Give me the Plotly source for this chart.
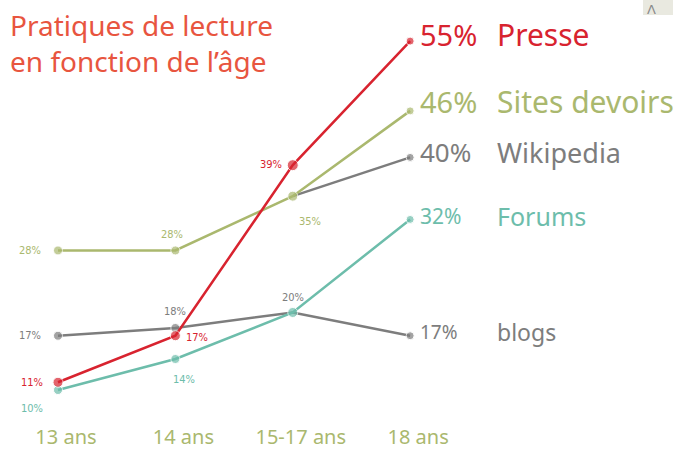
import plotly.graph_objects as go

ages = ["13 ans", "14 ans", "15-17 ans", "18 ans"]
presse = [11, 17, 39, 55]
sites_devoirs = [28, 28, 35, 46]
wikipedia = [None, None, 35, 40]
blogs = [17, 18, 20, 17]
forums = [10, 14, 20, 32]
names = ["Presse", "Sites devoirs", "Wikipedia", "Forums", "blogs"]
title_lines = ["Pratiques de lecture", "en fonction de l\u2019âge"]

RED = "#d8232f"
OLIVE = "#aab86e"
GRAY = "#7d7d7d"
TEAL = "#6dbdab"

fig = go.Figure()

def add_series(y, color, sizes, width=2.5):
    fig.add_trace(go.Scatter(
        x=ages, y=y, mode="lines+markers",
        line=dict(color=color, width=width),
        marker=dict(color=color, size=sizes),
        connectgaps=False, showlegend=False, hoverinfo="skip"))

add_series(wikipedia, GRAY, [0, 0, 0, 8])
add_series(blogs, GRAY, [9, 9, 0, 8])
add_series(sites_devoirs, OLIVE, [9, 9, 10, 8])
add_series(forums, TEAL, [9, 9, 10, 8])
add_series(presse, RED, [10, 10, 11, 8])

small = "DejaVu Sans Condensed"
def small_label(i, y, color, dx, dy, anchor="center"):
    fig.add_annotation(x=ages[i], y=y, text=f"{y}%", showarrow=False,
                       xref="x", yref="y", xshift=dx, yshift=dy, xanchor=anchor,
                       font=dict(family=small, size=11, color=color))

# small point labels
small_label(0, sites_devoirs[0], OLIVE, -28, 0)
small_label(1, sites_devoirs[1], OLIVE, -3, 16)
small_label(2, sites_devoirs[2], OLIVE, 17, -25)
small_label(0, blogs[0], GRAY, -28, 0)
small_label(1, blogs[1], GRAY, 0, 16)
small_label(2, blogs[2], GRAY, 0, 15)
small_label(0, presse[0], RED, -26, 0)
small_label(1, presse[1], RED, 22, -2)
small_label(2, presse[2], RED, -22, 1)
small_label(0, forums[0], TEAL, -26, -18)
small_label(1, forums[1], TEAL, 9, -20)

# end labels: value, colour, name, pct size, name size, yshift
big = "Noto Sans"
ends = [
    (presse[3], RED, names[0], 29, 30, 7),
    (sites_devoirs[3], OLIVE, names[1], 29, 30, 9),
    (wikipedia[3], GRAY, names[2], 26, 27, 5),
    (forums[3], TEAL, names[3], 21, 25, 3),
    (blogs[3], GRAY, names[4], 19, 23, 4),
]
for val, color, name, psize, nsize, ys in ends:
    fig.add_annotation(x=ages[3], y=val, text=f"{val}%", showarrow=False,
                       xanchor="left", xshift=8, yshift=ys,
                       font=dict(family=big, size=psize, color=color))
    fig.add_annotation(x=ages[3], y=val, text=name, showarrow=False,
                       xanchor="left", xshift=85, yshift=ys,
                       font=dict(family=big, size=nsize, color=color))

fig.add_annotation(x=0, y=1, xref="paper", yref="paper", xanchor="left", yanchor="top",
                   xshift=8, yshift=-4, showarrow=False, align="left",
                   text="<br>".join(title_lines),
                   font=dict(family="Noto Sans", size=28, color="#e8553f"))

# small button at top right corner
fig.add_shape(type="rect", xref="paper", yref="paper", x0=643 / 686, x1=673 / 686,
              y0=1 - 15 / 410, y1=1.05, line=dict(width=0), fillcolor="#e9e9e0", layer="below")
fig.add_annotation(x=658 / 686, y=1, xref="paper", yref="paper", yanchor="top", yshift=0,
                   showarrow=False, text="\u039b",
                   font=dict(family="DejaVu Sans", size=13, color="#8a8a8a"))

fig.update_layout(
    width=686, height=450,
    margin=dict(l=0, r=0, t=0, b=40),
    paper_bgcolor="white", plot_bgcolor="white",
    xaxis=dict(range=[-0.494, 5.35], showgrid=False, zeroline=False, showline=False,
               tickfont=dict(family="Noto Sans", size=20, color=OLIVE),
               ticks="", ticklabelshift=8, ticklabelstandoff=16),
    yaxis=dict(range=[7.81, 60.3], showgrid=False, zeroline=False, showline=False,
               showticklabels=False, ticks=""),
)

fig.write_html("out.html", config={"displayModeBar": False},
               post_script="document.body.style.margin='0px';")
